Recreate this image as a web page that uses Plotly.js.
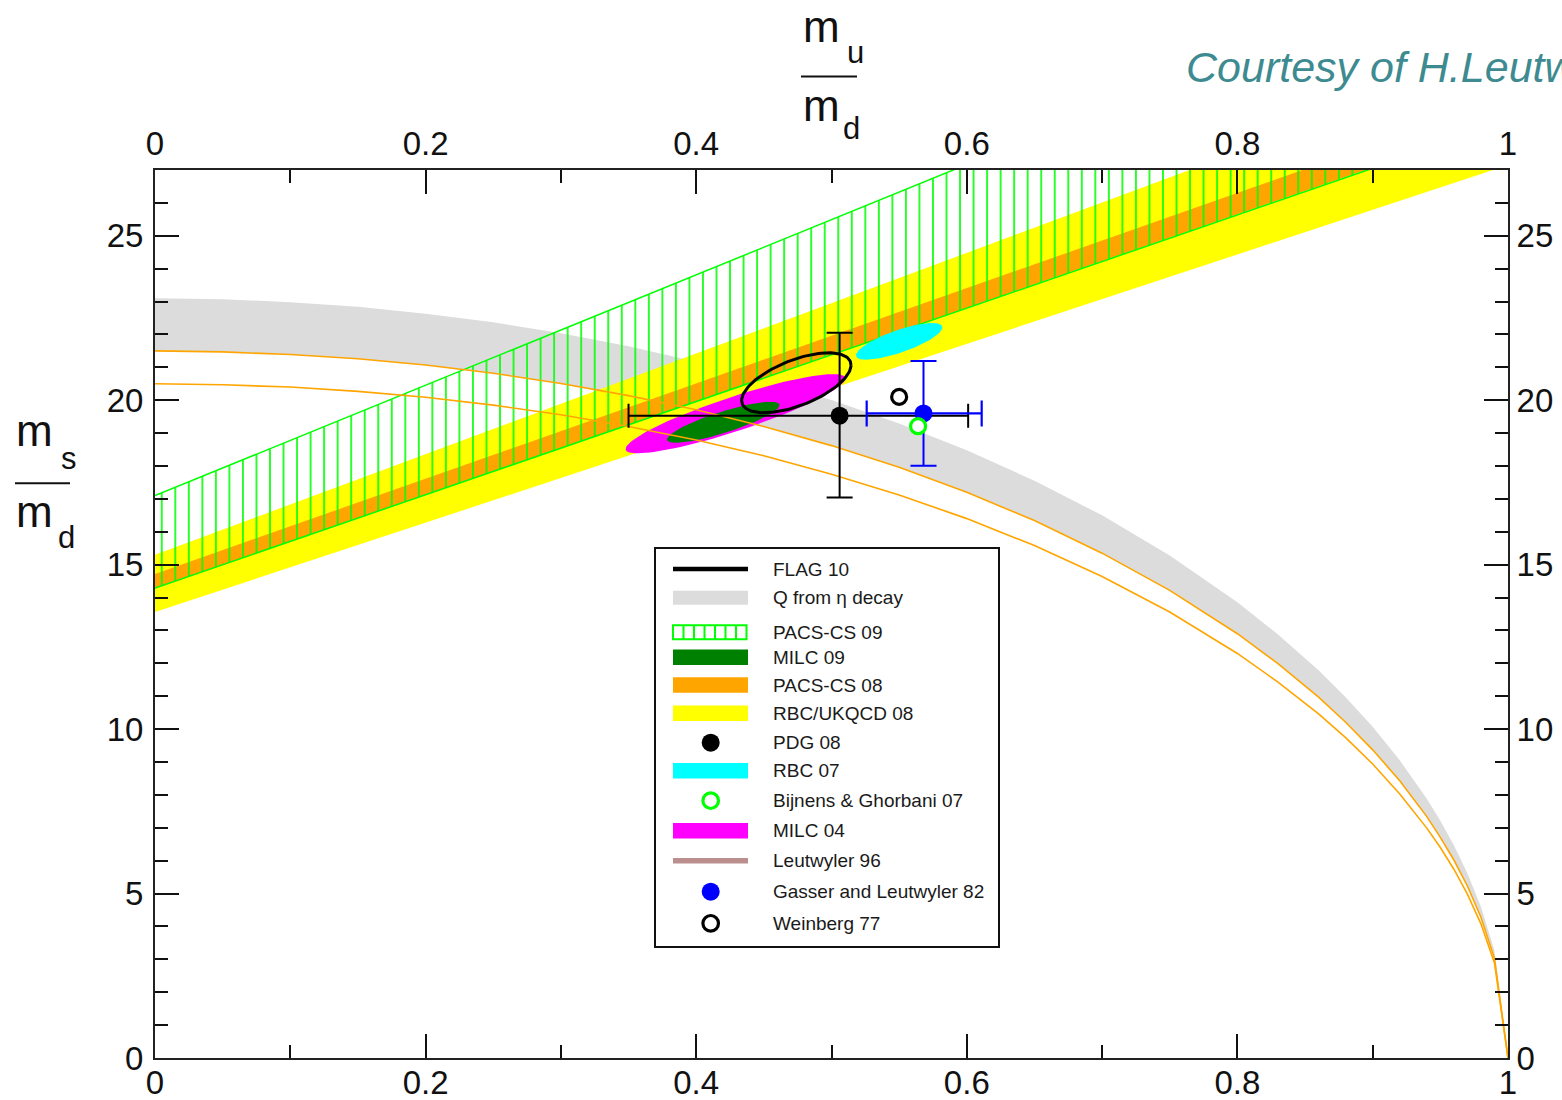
<!DOCTYPE html>
<html>
<head>
<meta charset="utf-8">
<script src="https://cdn.plot.ly/plotly-3.0.1.min.js"></script>
<style>
  html, body { margin: 0; padding: 0; background: #ffffff; }
  #chart { width: 1562px; height: 1100px; }
</style>
</head>
<body>
<div id="chart"></div>
<script>
// ---------- data ----------
// sample points along m_u/m_d for the Leutwyler-ellipse curves
const muSamples  = [0, 0.05, 0.1, 0.15, 0.2, 0.25, 0.3, 0.35, 0.4, 0.45, 0.5, 0.55, 0.6, 0.65, 0.7, 0.75, 0.8,
                    0.83, 0.86, 0.88, 0.9, 0.92, 0.94, 0.95, 0.96, 0.97, 0.98, 0.99, 1.0];
// upper edge of the "Q from eta decay" band (m_s/m_d)
const etaUpper   = [23.10, 23.07, 22.98, 22.84, 22.63, 22.37, 22.04, 21.64, 21.17, 20.63, 20.01, 19.29, 18.48,
                    17.55, 16.50, 15.28, 13.86, 12.88, 11.79, 10.97, 10.07, 9.05, 7.88, 7.21, 6.47, 5.62, 4.60, 3.26, 0];
// thin orange curves (the upper one is also the lower edge of the eta band)
const curveUpper = [21.50, 21.47, 21.39, 21.26, 21.07, 20.82, 20.51, 20.14, 19.71, 19.20, 18.62, 17.96, 17.20,
                    16.34, 15.35, 14.22, 12.90, 11.99, 10.97, 10.21, 9.37, 8.43, 7.34, 6.71, 6.02, 5.23, 4.28, 3.03, 0];
const curveLower = [20.50, 20.47, 20.40, 20.27, 20.09, 19.85, 19.56, 19.20, 18.79, 18.31, 17.75, 17.12, 16.40,
                    15.58, 14.64, 13.56, 12.30, 11.43, 10.46, 9.74, 8.94, 8.03, 6.99, 6.40, 5.74, 4.98, 4.08, 2.89, 0];

// straight lattice bands: m_s/m_d of each edge at m_u/m_d = 0 and at m_u/m_d = 1
const bandEnds    = [0, 1];
const rbcUkqcdLow = [13.56, 27.15];
const rbcUkqcdHigh= [15.30, 30.60];
const pacs08Low   = [14.27, 28.50];
const pacs08High  = [14.72, 29.20];
const pacs09Low   = [14.29, 28.47];
const pacs09High  = [17.10, 33.88];

// error ellipses: centre, half-range in x, half-range in y, correlation
const ellNames  = ['MILC 04', 'MILC 09', 'RBC 07', 'FLAG 10'];
const ellCx     = [0.429, 0.420, 0.550, 0.474];
const ellCy     = [19.59, 19.33, 21.79, 20.53];
const ellSx     = [0.0812, 0.0416, 0.0319, 0.0404];
const ellSy     = [1.205, 0.6225, 0.556, 0.911];
const ellRho    = [0.89, 0.84, 0.76, 0.59];

// points with ranges
const pdgX = [0.506], pdgXlo = [0.350], pdgXhi = [0.601];
const pdgY = [19.53], pdgYlo = [17.04], pdgYhi = [22.05];
const glX  = [0.568], glXlo  = [0.526], glXhi  = [0.611];
const glY  = [19.60], glYlo  = [18.01], glYhi  = [21.19];
const bgX  = [0.564], bgY = [19.21];
const wbX  = [0.550], wbY = [20.10];

// axis tick values
const xTicks = [0, 0.2, 0.4, 0.6, 0.8, 1];
const yTicks = [0, 5, 10, 15, 20, 25];

const legendLabels = ['FLAG 10', 'Q from \u03b7 decay', 'PACS-CS 09', 'MILC 09', 'PACS-CS 08',
  'RBC/UKQCD 08', 'PDG 08', 'RBC 07', 'Bijnens & Ghorbani 07', 'MILC 04', 'Leutwyler 96',
  'Gasser and Leutwyler 82', 'Weinberg 77'];

// ---------- helpers ----------
function band(lo, hi) {
  return {
    x: bandEnds.concat(bandEnds.slice().reverse()),
    y: lo.concat(hi.slice().reverse())
  };
}
function ellipse(i) {
  const xs = [], ys = [];
  const n = 120, r = ellRho[i], q = Math.sqrt(1 - r * r);
  for (let k = 0; k <= n; k++) {
    const t = 2 * Math.PI * k / n;
    xs.push(ellCx[i] + ellSx[i] * Math.cos(t));
    ys.push(ellCy[i] + ellSy[i] * (r * Math.cos(t) + q * Math.sin(t)));
  }
  return {x: xs, y: ys};
}

const COL = {
  gray: '#dcdcdc', yellow: '#ffff00', orange: '#ffa500', green: '#00ff00',
  dgreen: '#008000', cyan: '#00ffff', magenta: '#ff00ff', blue: '#0000ff',
  brown: '#bc8f8f'
};

// ---------- traces ----------
const traces = [];

// Q from eta decay band
traces.push({
  name: 'Q from \u03b7 decay', type: 'scatter', mode: 'lines',
  x: muSamples.concat(muSamples.slice().reverse()),
  y: etaUpper.concat(curveUpper.slice().reverse()),
  fill: 'toself', fillcolor: COL.gray, line: {width: 0}
});

const bRbc = band(rbcUkqcdLow, rbcUkqcdHigh);
traces.push({name: 'RBC/UKQCD 08', type: 'scatter', mode: 'lines', x: bRbc.x, y: bRbc.y,
  fill: 'toself', fillcolor: COL.yellow, line: {width: 0}});

const bP08 = band(pacs08Low, pacs08High);
traces.push({name: 'PACS-CS 08', type: 'scatter', mode: 'lines', x: bP08.x, y: bP08.y,
  fill: 'toself', fillcolor: COL.orange, line: {width: 0}});

const bP09 = band(pacs09Low, pacs09High);
traces.push({name: 'PACS-CS 09', type: 'scatter', mode: 'lines', x: bP09.x, y: bP09.y,
  fill: 'toself', fillcolor: 'rgba(0,0,0,0)',
  fillpattern: {shape: '|', fgcolor: COL.green, bgcolor: 'rgba(0,0,0,0)', size: 13.53, solidity: 0.12},
  line: {color: COL.green, width: 1.5}});

// filled ellipses
[0, 1, 2].forEach(function (i) {
  const e = ellipse(i);
  const c = [COL.magenta, COL.dgreen, COL.cyan][i];
  traces.push({name: ellNames[i], type: 'scatter', mode: 'lines', x: e.x, y: e.y,
    fill: 'toself', fillcolor: c, line: {width: 0}});
});

// thin curves
traces.push({name: 'upper curve', type: 'scatter', mode: 'lines', x: muSamples, y: curveUpper,
  line: {color: COL.orange, width: 1.6}});
traces.push({name: 'lower curve', type: 'scatter', mode: 'lines', x: muSamples, y: curveLower,
  line: {color: COL.orange, width: 1.6}});

// FLAG 10 outline
const eF = ellipse(3);
traces.push({name: ellNames[3], type: 'scatter', mode: 'lines', x: eF.x, y: eF.y,
  line: {color: '#000000', width: 3}});

// PDG 08
traces.push({name: 'PDG 08', type: 'scatter', mode: 'markers', x: pdgX, y: pdgY,
  marker: {color: '#000000', size: 18},
  error_x: {type: 'data', symmetric: false, array: [pdgXhi[0] - pdgX[0]], arrayminus: [pdgX[0] - pdgXlo[0]],
    color: '#000000', thickness: 2, width: 12},
  error_y: {type: 'data', symmetric: false, array: [pdgYhi[0] - pdgY[0]], arrayminus: [pdgY[0] - pdgYlo[0]],
    color: '#000000', thickness: 2, width: 13}});

// Gasser and Leutwyler 82
traces.push({name: 'Gasser and Leutwyler 82', type: 'scatter', mode: 'markers', x: glX, y: glY,
  marker: {color: COL.blue, size: 18},
  error_x: {type: 'data', symmetric: false, array: [glXhi[0] - glX[0]], arrayminus: [glX[0] - glXlo[0]],
    color: COL.blue, thickness: 2.2, width: 13},
  error_y: {type: 'data', symmetric: false, array: [glYhi[0] - glY[0]], arrayminus: [glY[0] - glYlo[0]],
    color: COL.blue, thickness: 2, width: 13}});

// Bijnens & Ghorbani 07
traces.push({name: 'Bijnens & Ghorbani 07', type: 'scatter', mode: 'markers', x: bgX, y: bgY,
  marker: {color: '#ffffff', size: 15, line: {color: COL.green, width: 3.2}}});

// Weinberg 77 (on the mirrored top/right axes)
traces.push({name: 'Weinberg 77', type: 'scatter', mode: 'markers', x: wbX, y: wbY,
  xaxis: 'x2', yaxis: 'y2',
  marker: {color: '#ffffff', size: 15, line: {color: '#000000', width: 3.2}}});

traces.forEach(function (t) { t.showlegend = false; t.hoverinfo = 'skip'; });

// ---------- layout ----------
const L = 155, R = 1508, T = 170, B = 1058;
const px = p => (p - L) / (R - L);
const py = p => (B - p) / (B - T);

const tickFont = {family: 'Liberation Sans, Arial, sans-serif', size: 33, color: '#111111'};
function axisBase(range, minorDtick, vals, standoff) {
  return {
    range: range, autorange: false, fixedrange: true,
    tickmode: 'array', tickvals: vals, ticktext: vals.map(String),
    ticks: 'inside', ticklen: 24, tickwidth: 2, tickcolor: '#111111',
    minor: {dtick: minorDtick, ticks: 'inside', ticklen: 13, tickwidth: 2, tickcolor: '#111111', showgrid: false},
    showline: true, linecolor: '#222222', linewidth: 2,
    showgrid: false, zeroline: false, tickfont: tickFont, ticklabelstandoff: standoff
  };
}

const xa = axisBase([0, 1], 0.1, xTicks, -6);
const ya = axisBase([0, 27], 1, yTicks, 3);
const xa2 = Object.assign(axisBase([0, 1], 0.1, xTicks, 0), {overlaying: 'x', side: 'top', anchor: 'y2'});
const ya2 = Object.assign(axisBase([0, 27], 1, yTicks, 0), {overlaying: 'y', side: 'right', anchor: 'x2'});

const annotations = [];
const shapes = [];
const titleFont = {family: 'Liberation Sans, Arial, sans-serif', color: '#111111'};

function txt(text, cx, cy, size) {
  annotations.push({
    text: text, xref: 'paper', yref: 'paper', x: px(cx), y: py(cy),
    xanchor: 'center', yanchor: 'middle', showarrow: false,
    font: Object.assign({}, titleFont, {size: size})
  });
}

// axis titles as stacked fractions
txt('m', 821.5, 26, 44);
txt('u', 855, 53, 31);
txt('m', 821.5, 105.5, 44);
txt('d', 851, 129, 31);
shapes.push({type: 'line', xref: 'paper', yref: 'paper', x0: px(801), x1: px(857), y0: py(76.5), y1: py(76.5),
  line: {color: '#111111', width: 2}});

txt('m', 35, 430.5, 44);
txt('s', 68.5, 458, 31);
txt('m', 34, 512, 44);
txt('d', 66, 537, 31);
shapes.push({type: 'line', xref: 'paper', yref: 'paper', x0: px(15), x1: px(70), y0: py(483.3), y1: py(483.3),
  line: {color: '#111111', width: 2}});

// credit line
annotations.push({
  text: '<i>Courtesy of H.Leutwyler</i>', xref: 'paper', yref: 'paper',
  x: px(1184), y: py(66.5), xanchor: 'left', yanchor: 'middle', showarrow: false,
  font: {family: 'Liberation Sans, Arial, sans-serif', size: 43, color: '#3d8b90'}
});

// ---------- legend box ----------
shapes.push({type: 'rect', xref: 'paper', yref: 'paper', x0: px(655), x1: px(999), y0: py(548), y1: py(947),
  line: {color: '#111111', width: 2}, fillcolor: '#ffffff', layer: 'above'});

const rowY = [569, 597.7, 632.3, 657.3, 685, 713.3, 742.7, 770.7, 800.7, 830.7, 860.7, 891.7, 923.3];
const symKind = ['line', 'bar', 'hatch', 'bar', 'bar', 'bar', 'dot', 'bar', 'ring', 'bar', 'line', 'dot', 'ring'];
const symColor = ['#000000', COL.gray, COL.green, COL.dgreen, COL.orange, COL.yellow, '#000000', COL.cyan,
  COL.green, COL.magenta, COL.brown, COL.blue, '#000000'];
const sx0 = 673, sx1 = 748, mx = 710.7;

legendLabels.forEach(function (lab, i) {
  const y = rowY[i], k = symKind[i], c = symColor[i];
  if (k === 'line') {
    shapes.push({type: 'line', xref: 'paper', yref: 'paper', x0: px(sx0), x1: px(sx1), y0: py(y), y1: py(y),
      line: {color: c, width: i === 0 ? 4.5 : 5.5}, layer: 'above'});
  } else if (k === 'bar') {
    const h = (i === 1) ? 14 : 15.5;
    shapes.push({type: 'rect', xref: 'paper', yref: 'paper', x0: px(sx0), x1: px(sx1),
      y0: py(y - h / 2), y1: py(y + h / 2), line: {width: 0}, fillcolor: c, layer: 'above'});
  } else if (k === 'hatch') {
    const hx0 = 673, hx1 = 746.5, h = 14;
    shapes.push({type: 'rect', xref: 'paper', yref: 'paper', x0: px(hx0), x1: px(hx1),
      y0: py(y - h / 2), y1: py(y + h / 2), line: {color: c, width: 2}, fillcolor: 'rgba(0,0,0,0)', layer: 'above'});
    for (let j = 1; j < 7; j++) {
      const xx = hx0 + (hx1 - hx0) * j / 7;
      shapes.push({type: 'line', xref: 'paper', yref: 'paper', x0: px(xx), x1: px(xx),
        y0: py(y - h / 2), y1: py(y + h / 2), line: {color: c, width: 2}, layer: 'above'});
    }
  } else if (k === 'dot') {
    shapes.push({type: 'circle', xref: 'paper', yref: 'paper', x0: px(mx - 9), x1: px(mx + 9),
      y0: py(y + 9), y1: py(y - 9), line: {width: 0}, fillcolor: c, layer: 'above'});
  } else if (k === 'ring') {
    shapes.push({type: 'circle', xref: 'paper', yref: 'paper', x0: px(mx - 7.8), x1: px(mx + 7.8),
      y0: py(y + 7.8), y1: py(y - 7.8), line: {color: c, width: 3.2}, fillcolor: '#ffffff', layer: 'above'});
  }
  annotations.push({
    text: lab, xref: 'paper', yref: 'paper', x: px(771), y: py(y), xanchor: 'left', yanchor: 'middle',
    showarrow: false, font: {family: 'Liberation Sans, Arial, sans-serif', size: 19, color: '#1a1a1a'}
  });
});

const layout = {
  width: 1562, height: 1100,
  margin: {l: L, r: 1562 - R, t: T, b: 1100 - B, pad: 0},
  paper_bgcolor: '#ffffff', plot_bgcolor: '#ffffff',
  showlegend: false,
  xaxis: xa, yaxis: ya, xaxis2: xa2, yaxis2: ya2,
  shapes: shapes, annotations: annotations,
  hovermode: false
};

Plotly.newPlot('chart', traces, layout, {displayModeBar: false, staticPlot: true});
</script>
</body>
</html>
